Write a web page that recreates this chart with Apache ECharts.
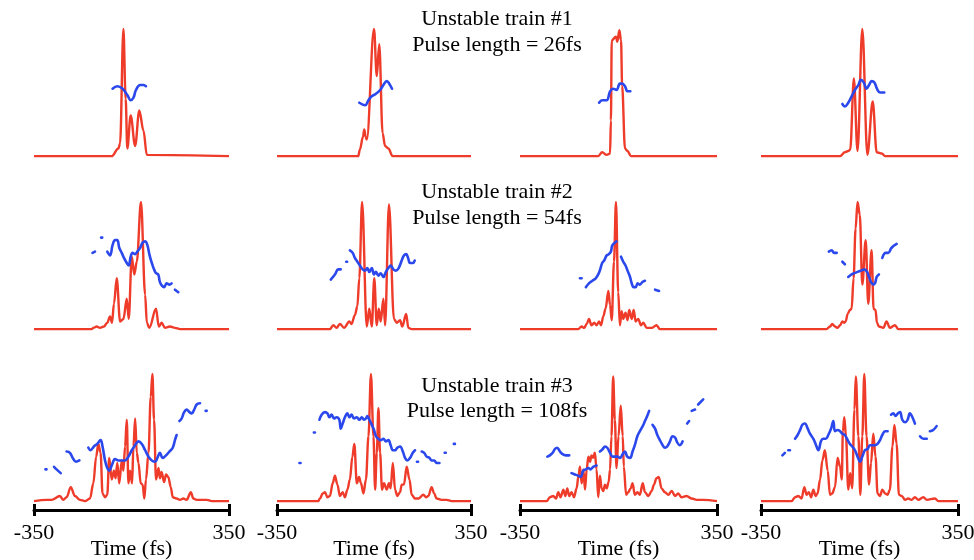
<!DOCTYPE html>
<html>
<head>
<meta charset="utf-8">
<script src="https://cdn.jsdelivr.net/npm/echarts@6/dist/echarts.min.js"></script>
<style>html,body{margin:0;padding:0;background:#fff;}#c{width:974px;height:560px;}</style>
</head>
<body>
<div id="c"></div>
<script>
// ---- Data (time in fs, normalised intensity / relative phase) ----
const trainTitles = ['Unstable train #1', 'Unstable train #2', 'Unstable train #3'];
const pulseLengths = ['26fs', '54fs', '108fs'];
const xTickLabels = ['-350', '350'];
const axisName = 'Time (fs)';

// Row 1
const p1Red = [[-350,0],[-71,0],[-47,0.06],[-41,0.1],[-29,1.0],[-21,0.45],[-15,0.06],[-3,0.32],[13,0.08],[28,0.36],[43,0.2],[55,0.01],[350,0]];
const p1Phase = [[[-68,0.53],[-51,0.55],[-32,0.53],[-15,0.48],[-3,0.44],[7,0.46],[16,0.52],[31,0.56],[43,0.56],[52,0.55]]];
const p2Red = [[-350,0],[-57,0],[-51,0.05],[-40,0.15],[-35,0.21],[-30,0.15],[-26,0.13],[0,1.0],[10,0.63],[19,0.88],[31,0.18],[40,0.08],[52,0.06],[67,0],[350,0]];
const p2Phase = [[[-53,0.42],[-32,0.40],[-20,0.44],[-8,0.47],[7,0.49],[22,0.52],[34,0.56],[46,0.59],[55,0.57],[65,0.53]]];
const p3Red = [[-350,0],[-72,0],[-58,0.03],[-42,0.01],[-30,0.02],[-27,0.28],[-24,0.91],[-9,0.94],[-4,0.9],[3,0.99],[9,0.91],[13,0.55],[23,0.06],[32,0.04],[44,0],[350,0]];
const p3Phase = [[[-69,0.42],[-58,0.44],[-42,0.44],[-30,0.51],[-19,0.53],[-7,0.52],[5,0.57],[13,0.57],[23,0.55],[32,0.51],[42,0.51]]];
const p4Red = [[-350,0],[-69,0],[-52,0.03],[-40,0.04],[-33,0.05],[-20,0.61],[-7,0.04],[10,1.0],[28,0.01],[47,0.43],[61,0.03],[79,0.02],[91,0],[350,0]];
const p4Phase = [[[-61,0.41],[-52,0.39],[-40,0.42],[-28,0.47],[-16,0.52],[-4,0.56],[5,0.6],[15,0.58],[25,0.53],[34,0.56],[43,0.59],[53,0.58],[62,0.53],[73,0.5],[88,0.5]]];

// Row 2
const p5Red = [[-350,0],[-143,0],[-137,0.01],[-125,0.02],[-113,0.01],[-99,0.02],[-87,0.05],[-77,0.1],[-70,0.05],[-63,0.2],[-53,0.4],[-41,0.06],[-29,0.08],[-17,0.24],[-10,0.08],[1,0.57],[10,0.43],[19,0.53],[34,1.0],[49,0.27],[55,0.05],[64,0.01],[88,0.16],[98,0.02],[108,0.05],[120,0.01],[138,0.02],[156,0.01],[174,0],[350,0]];
const p5Phase = [
  [[-140,0.6],[-131,0.61]],
  [[-109,0.72],[-105,0.72]],
  [[-87,0.61],[-77,0.58],[-68,0.66],[-59,0.7],[-51,0.7],[-44,0.64],[-35,0.6],[-27,0.56],[-17,0.52],[-10,0.5],[-3,0.57],[4,0.6],[13,0.59],[21,0.61],[31,0.64],[40,0.68],[49,0.69],[57,0.66],[64,0.59],[70,0.54],[76,0.5],[81,0.47],[88,0.44],[96,0.43],[102,0.37],[110,0.34],[117,0.33],[126,0.36],[136,0.35],[144,0.36]],
  [[156,0.31],[168,0.29]]
];
const p6Red = [[-350,0],[-159,0],[-147,0.03],[-135,0.01],[-123,0.04],[-108,0.01],[-89,0.06],[-81,0.04],[-69,0.11],[-60,0.18],[-53,0.4],[-43,1.0],[-26,0.02],[-17,0.16],[-8,0.02],[1,0.4],[10,0.03],[17,0.16],[24,0.06],[34,0.24],[40,0.03],[54,0.98],[72,0.08],[82,0.05],[94,0.07],[102,0.02],[116,0.12],[124,0.01],[136,0],[350,0]];
const p6Phase = [
  [[-156,0.39],[-141,0.43],[-129,0.47],[-120,0.47]],
  [[-100,0.53],[-97,0.53]],
  [[-87,0.62],[-77,0.6],[-69,0.56],[-60,0.53],[-51,0.5],[-41,0.47],[-32,0.46],[-24,0.48],[-17,0.45],[-8,0.48],[0,0.43],[7,0.45],[16,0.42],[24,0.44],[34,0.41],[43,0.45],[52,0.48],[60,0.5],[70,0.47],[79,0.46],[89,0.48],[100,0.54],[108,0.58],[116,0.59],[123,0.56],[130,0.52],[140,0.52],[147,0.54]]
];
const p7Red = [[-350,0],[-143,0],[-131,0.02],[-122,0.01],[-113,0.04],[-105,0.08],[-96,0.03],[-86,0.05],[-78,0.03],[-69,0.06],[-62,0.03],[-54,0.1],[-46,0.16],[-36,0.3],[-30,0.19],[-24,0.07],[-16,0.53],[-9,1.0],[-1,0.29],[5,0.03],[11,0.14],[17,0.08],[25,0.13],[32,0.07],[38,0.15],[47,0.08],[54,0.15],[61,0.06],[70,0.08],[80,0.03],[88,0.05],[100,0.01],[118,0.01],[135,0.03],[147,0],[350,0]];
const p7Phase = [
  [[-137,0.4],[-131,0.4]],
  [[-116,0.33],[-105,0.36],[-93,0.38],[-81,0.4],[-72,0.43],[-65,0.47],[-58,0.52],[-51,0.54],[-42,0.58],[-34,0.59],[-27,0.61],[-22,0.66],[-13,0.68],[-7,0.69]],
  [[9,0.57],[17,0.53],[25,0.5],[32,0.46],[41,0.41],[47,0.36],[54,0.33],[61,0.33],[68,0.36],[76,0.35],[85,0.37],[94,0.38]],
  [[130,0.31],[144,0.3]]
];
const p8Red = [[-350,0],[-117,0],[-105,0.02],[-97,0.04],[-87,0.02],[-78,0.01],[-69,0.03],[-61,0.06],[-54,0.05],[-49,0.06],[-42,0.12],[-34,0.15],[-28,0.16],[-21,0.4],[-14,0.79],[-7,1.0],[1,0.9],[10,0.35],[22,0.7],[31,0.2],[43,0.62],[50,0.16],[57,0.15],[62,0.05],[69,0.02],[85,0.01],[96,0.06],[108,0.01],[126,0.03],[138,0],[350,0]];
const p8Phase = [
  [[-109,0.61],[-99,0.62],[-90,0.6],[-81,0.6]],
  [[-61,0.53],[-52,0.51]],
  [[-40,0.41],[-28,0.43],[-19,0.44],[-7,0.45],[5,0.46],[17,0.47],[27,0.45],[34,0.41],[41,0.37],[49,0.35],[55,0.36],[61,0.41],[69,0.43]],
  [[81,0.56],[93,0.6],[102,0.6],[114,0.64],[132,0.67]]
];

// Row 3
const p9Red = [[-350,0],[-305,0.01],[-287,0.01],[-257,0.04],[-245,0.01],[-233,0.03],[-218,0.11],[-203,0.04],[-185,0.01],[-167,0],[-149,0.02],[-137,0.14],[-127,0.35],[-119,0.45],[-111,0.38],[-104,0.06],[-95,0.03],[-87,0.05],[-80,0.34],[-71,0.17],[-63,0.24],[-57,0.18],[-51,0.3],[-44,0.14],[-35,0.32],[-29,0.24],[-23,0.43],[-17,0.64],[-11,0.14],[-5,0.24],[2,0.14],[7,0.43],[13,0.65],[19,0.38],[25,0.3],[33,0.14],[40,0.13],[46,0.02],[52,0.17],[61,0.38],[69,0.82],[75,1.0],[81,0.64],[88,0.17],[97,0.26],[102,0.18],[108,0.23],[117,0.15],[124,0.21],[132,0.19],[141,0.11],[148,0.03],[162,0.02],[174,0.01],[186,0.02],[198,0.01],[213,0.07],[222,0.02],[234,0.01],[252,0.01],[270,0.01],[288,0],[350,0]];
const p9Phase = [
  [[-309,0.25],[-305,0.25]],
  [[-278,0.27],[-269,0.25],[-254,0.22]],
  [[-233,0.39],[-221,0.38],[-211,0.34],[-199,0.31],[-187,0.32]],
  [[-155,0.42],[-147,0.4],[-135,0.43],[-123,0.45],[-111,0.48],[-104,0.43],[-95,0.32],[-87,0.26],[-80,0.24],[-71,0.28],[-59,0.33],[-47,0.32],[-35,0.32],[-23,0.32],[-11,0.35],[1,0.4],[13,0.44],[25,0.47],[37,0.45],[49,0.4],[61,0.35],[73,0.32],[85,0.31],[93,0.34],[102,0.38],[112,0.34],[124,0.36],[136,0.39],[148,0.42],[156,0.48],[162,0.52]],
  [[172,0.63],[180,0.65],[189,0.7],[198,0.72],[208,0.7],[216,0.69],[225,0.72],[234,0.76],[246,0.77]],
  [[266,0.71],[270,0.71]]
];
const p10Red = [[-350,0],[-201,0],[-195,0.02],[-185,0.06],[-177,0.07],[-168,0.03],[-159,0.04],[-149,0.14],[-141,0.2],[-132,0.13],[-123,0.04],[-113,0.07],[-105,0.03],[-96,0.09],[-87,0.17],[-78,0.35],[-71,0.45],[-62,0.14],[-54,0.19],[-47,0.14],[-38,0.06],[-29,0.17],[-20,0.51],[-11,1.0],[-2,0.51],[4,0.09],[10,0.38],[16,0.73],[22,0.38],[29,0.09],[36,0.14],[46,0.09],[54,0.14],[60,0.1],[68,0.3],[76,0.09],[84,0.04],[94,0.07],[100,0.13],[108,0.13],[118,0.27],[128,0.17],[136,0.05],[148,0.02],[160,0.02],[178,0.05],[188,0.03],[196,0.04],[208,0.11],[217,0.06],[226,0.02],[244,0.01],[262,0.01],[280,0],[350,0]];
const p10Phase = [
  [[-269,0.3],[-265,0.3]],
  [[-217,0.54],[-213,0.54]],
  [[-197,0.64],[-189,0.68],[-177,0.7],[-168,0.69],[-161,0.66],[-153,0.68],[-144,0.65],[-135,0.66],[-125,0.64],[-120,0.57],[-113,0.61],[-105,0.66],[-96,0.69],[-89,0.66],[-81,0.68],[-72,0.65],[-62,0.66],[-53,0.64],[-44,0.66],[-36,0.64],[-29,0.65],[-24,0.67],[-17,0.64],[-8,0.6],[0,0.56],[7,0.51],[16,0.49],[24,0.48],[34,0.49],[43,0.47],[52,0.48],[60,0.44],[68,0.4],[76,0.4],[84,0.42],[94,0.43],[104,0.39],[112,0.34],[120,0.32],[130,0.34],[140,0.38],[148,0.4]],
  [[155,0.31],[159,0.31]],
  [[172,0.39],[181,0.38],[190,0.35],[200,0.34],[208,0.32],[217,0.32],[226,0.3],[236,0.3]],
  [[255,0.38],[259,0.38]],
  [[288,0.45],[292,0.45]]
];
const p11Red = [[-350,0],[-255,0],[-244,0.03],[-232,0.04],[-222,0.02],[-214,0.07],[-206,0.03],[-196,0.09],[-189,0.04],[-182,0.1],[-175,0.04],[-167,0.07],[-158,0.03],[-149,0.1],[-142,0.2],[-137,0.27],[-131,0.14],[-125,0.25],[-119,0.09],[-113,0.25],[-107,0.35],[-101,0.31],[-96,0.36],[-90,0.34],[-84,0.38],[-78,0.25],[-72,0.03],[-66,0.2],[-60,0.1],[-54,0.08],[-48,0.13],[-42,0.1],[-35,0.15],[-30,0.25],[-25,0.51],[-19,0.98],[-13,0.64],[-7,0.26],[0,0.51],[8,0.75],[15,0.51],[19,0.27],[27,0.05],[35,0.07],[43,0.1],[50,0.14],[58,0.05],[67,0.07],[76,0.05],[86,0.14],[94,0.07],[106,0.04],[118,0.08],[126,0.13],[135,0.18],[143,0.19],[153,0.1],[165,0.07],[177,0.05],[189,0.08],[201,0.04],[212,0.06],[224,0.03],[242,0.04],[260,0.02],[278,0.01],[301,0.01],[350,0]];
const p11Phase = [
  [[-253,0.35],[-244,0.36],[-234,0.38],[-226,0.41],[-218,0.42],[-208,0.39],[-199,0.37],[-187,0.36],[-175,0.36]],
  [[-167,0.22],[-155,0.21],[-143,0.2],[-135,0.19],[-125,0.24],[-116,0.25],[-107,0.26],[-99,0.25],[-90,0.27],[-78,0.28]],
  [[-66,0.39],[-56,0.41],[-48,0.43],[-40,0.42],[-30,0.38],[-21,0.35],[-13,0.35],[-4,0.35],[5,0.34],[15,0.37],[23,0.39],[31,0.35],[41,0.34],[50,0.39],[58,0.44],[67,0.51],[76,0.55],[86,0.59],[94,0.63],[102,0.67],[109,0.71]],
  [[121,0.6],[130,0.57],[138,0.52],[147,0.48],[157,0.44],[165,0.42],[173,0.43],[183,0.47],[192,0.51],[201,0.5],[209,0.46],[218,0.44],[228,0.47]],
  [[244,0.61],[251,0.63]],
  [[260,0.71],[272,0.72]],
  [[283,0.76],[301,0.8]]
];
const p12Red = [[-350,0],[-241,0],[-229,0.03],[-217,0.04],[-206,0.02],[-196,0.11],[-188,0.05],[-180,0.07],[-172,0.03],[-164,0.09],[-156,0.04],[-149,0.06],[-140,0.17],[-132,0.32],[-123,0.4],[-113,0.24],[-105,0.05],[-97,0.06],[-87,0.11],[-78,0.34],[-69,0.27],[-63,0.17],[-59,0.55],[-54,0.66],[-48,0.51],[-40,0.09],[-33,0.22],[-26,0.1],[-18,0.72],[-13,0.98],[-4,0.51],[3,0.05],[10,0.51],[17,1.0],[25,0.51],[34,0.13],[41,0.3],[49,0.53],[57,0.35],[64,0.06],[73,0.04],[81,0.09],[91,0.06],[100,0.05],[108,0.09],[117,0.43],[124,0.6],[132,0.45],[140,0.05],[150,0.04],[162,0.01],[173,0.02],[185,0.01],[197,0.03],[209,0.01],[227,0.03],[239,0.01],[268,0.02],[280,0],[350,0]];
const p12Phase = [
  [[-274,0.36],[-265,0.38]],
  [[-253,0.4],[-247,0.4]],
  [[-229,0.49],[-220,0.52],[-211,0.56],[-203,0.6],[-194,0.61],[-184,0.57],[-176,0.53],[-164,0.49],[-156,0.45],[-146,0.4],[-137,0.47],[-129,0.49],[-120,0.49],[-111,0.52],[-101,0.57],[-93,0.63],[-87,0.55],[-78,0.56],[-69,0.55],[-61,0.53],[-52,0.52],[-42,0.48],[-34,0.45],[-26,0.43],[-16,0.4],[-7,0.35],[2,0.31],[10,0.35],[19,0.4],[29,0.41],[37,0.44],[46,0.44],[55,0.44],[64,0.45],[73,0.48],[81,0.52],[91,0.55],[100,0.55]],
  [[112,0.68],[120,0.69],[128,0.67],[136,0.69],[144,0.7],[152,0.64],[162,0.62],[171,0.64],[179,0.69],[188,0.66],[197,0.61]],
  [[215,0.51],[227,0.49],[239,0.49]],
  [[250,0.55],[262,0.56],[274,0.59]]
];

const redSeries = [p1Red,p2Red,p3Red,p4Red,p5Red,p6Red,p7Red,p8Red,p9Red,p10Red,p11Red,p12Red];
const phaseSeries = [p1Phase,p2Phase,p3Phase,p4Phase,p5Phase,p6Phase,p7Phase,p8Phase,p9Phase,p10Phase,p11Phase,p12Phase];

// ---- Layout ----
const colLeft = [34, 277, 520, 761];
const colWidth = [195, 194, 197, 197];
const rowTop = [29, 202, 374];
const gridH = 136;
const titleX = 497;
const titleY = [[19, 45], [192, 218], [386, 411]];
const RED = '#ee3b2a', BLUE = '#2b48ec';
const serif = '"Liberation Serif", "Times New Roman", serif';
const FS = 22;

function joinSegments(segs) {
  const out = [];
  segs.forEach((s, i) => {
    if (i > 0) {
      const prev = segs[i - 1][segs[i - 1].length - 1][0];
      out.push([(prev + s[0][0]) / 2, '-']);
    }
    s.forEach(pt => out.push(pt));
  });
  return out;
}

const grids = [], xAxes = [], yAxes = [], series = [];
redSeries.forEach((red, i) => {
  const r = Math.floor(i / 4), c = i % 4;
  const bottomRow = r === 2;
  grids.push({ left: colLeft[c], top: rowTop[r], width: colWidth[c], height: gridH,
    containLabel: false, outerBoundsMode: 'none' });
  const xi = xAxes.length;
  xAxes.push({
    gridIndex: i, type: 'value', position: 'bottom', min: -350, max: 350, interval: 700,
    show: bottomRow,
    axisLine: { onZero: false, lineStyle: { color: '#000', width: 3 } },
    axisTick: { show: true, length: 6, lineStyle: { color: '#000', width: 3 } },
    axisLabel: { show: true, margin: 12, color: '#000', fontFamily: serif, fontSize: FS,
      formatter: v => (v < 0 ? xTickLabels[0] : xTickLabels[1]) },
    splitLine: { show: false },
    name: bottomRow ? axisName : '', nameLocation: 'middle', nameGap: 28, nameMoveOverlap: false,
    nameTextStyle: { color: '#000', fontFamily: serif, fontSize: FS }
  });
  if (bottomRow) {
    xAxes.push({
      gridIndex: i, type: 'value', position: 'top', offset: -gridH, min: -350, max: 350, interval: 700,
      axisLine: { show: false, onZero: false },
      axisTick: { show: true, length: 6, lineStyle: { color: '#000', width: 3 } },
      axisLabel: { show: false }, splitLine: { show: false }
    });
  }
  yAxes.push({ gridIndex: i, type: 'value', min: -0.07, max: 1, show: false, splitLine: { show: false } });
  series.push({
    type: 'line', xAxisIndex: xi, yAxisIndex: i, data: red, showSymbol: false,
    smooth: 0.35, smoothMonotone: 'x',
    lineStyle: { color: RED, width: 2.4 }, silent: true, z: 2
  });
  series.push({
    type: 'line', xAxisIndex: xi, yAxisIndex: i, data: joinSegments(phaseSeries[i]), showSymbol: false,
    connectNulls: false, smooth: 0.4,
    lineStyle: { color: BLUE, width: 2.6, cap: 'round' }, silent: true, z: 3
  });
});

const graphics = [];
titleY.forEach((ys, r) => {
  graphics.push({ type: 'text', x: titleX, y: ys[0], z: 10,
    style: { text: trainTitles[r], align: 'center', verticalAlign: 'middle', font: FS + 'px ' + serif, fill: '#000' } });
  graphics.push({ type: 'text', x: titleX, y: ys[1], z: 10,
    style: { text: 'Pulse length = ' + pulseLengths[r], align: 'center', verticalAlign: 'middle', font: FS + 'px ' + serif, fill: '#000' } });
});

const chart = echarts.init(document.getElementById('c'), null, { renderer: 'canvas' });
chart.setOption({
  animation: false,
  backgroundColor: '#fff',
  grid: grids, xAxis: xAxes, yAxis: yAxes, series: series,
  graphic: graphics
});
</script>
</body>
</html>
